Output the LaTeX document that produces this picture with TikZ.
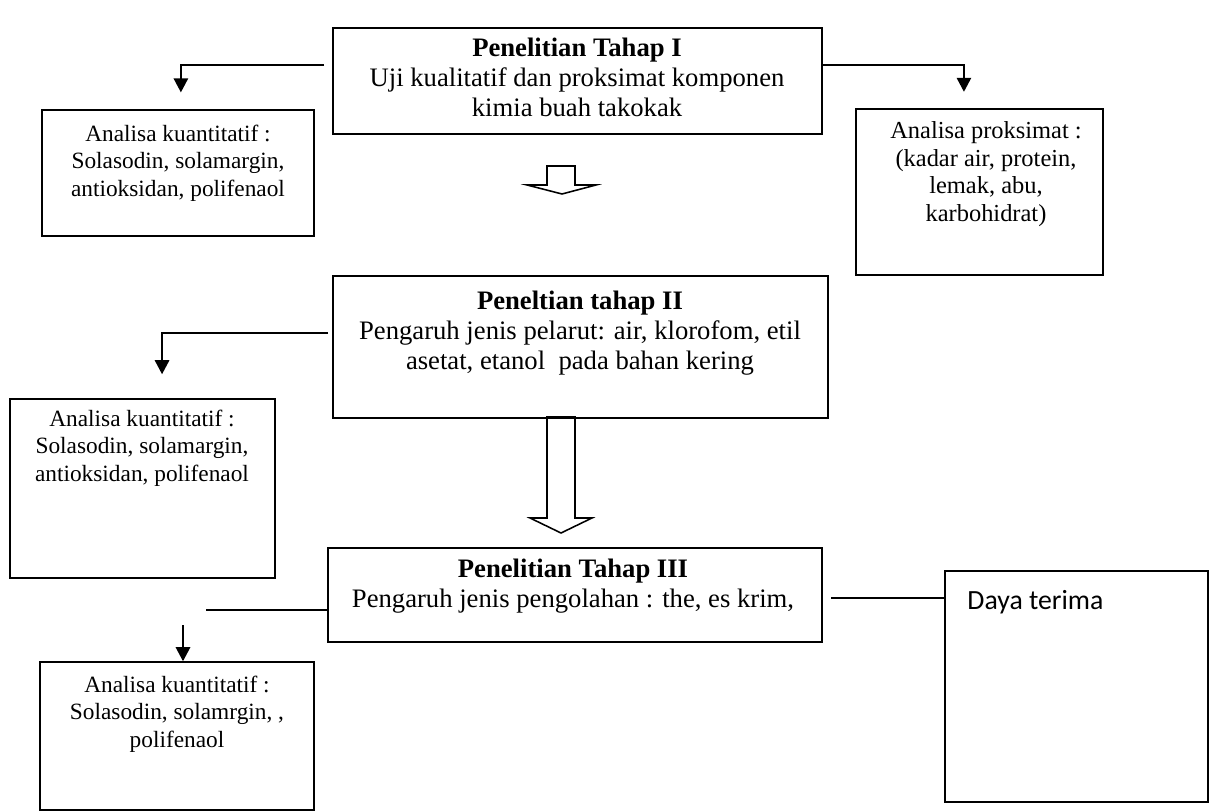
\documentclass[tikz,border=0pt]{standalone}
\usepackage{fontspec}
\setmainfont{Liberation Serif}
\newfontfamily\calibri{Carlito}
\usetikzlibrary{arrows.meta,fit,positioning}

\begin{document}
\begin{tikzpicture}[x=0.45pt,y=-0.45pt,
    box/.style={draw, line width=0.7pt, inner sep=0pt},
    boldbox/.style={draw, line width=1.1pt, inner sep=0pt},
    maintxt/.style={align=center, inner sep=0pt, font=\fontsize{12}{13.5}\selectfont},
    smalltxt/.style={align=center, inner sep=0pt, font=\fontsize{10.5}{12.4}\selectfont},
    arr/.style={line width=0.7pt, -{Triangle[length=6.3pt,width=6.5pt]}},
    link/.style={line width=0.7pt}]
    \useasboundingbox (0,0) rectangle (1213,812);
    % Stage boxes
    \node[box, fit={(333,28) (822,134)}] (tahap1) {};
    \node[box, fit={(333,276) (828,418)}] (tahap2) {};
    \node[boldbox, fit={(328,548) (822,642)}] (tahap3) {};
    % Result boxes
    \node[box, fit={(42,110) (314,236)}] (kuant1) {};
    \node[box, fit={(856,109) (1103,275)}] (proks) {};
    \node[box, fit={(10,399) (275,578)}] (kuant2) {};
    \node[box, fit={(40,662) (314,810)}] (kuant3) {};
    \node[box, fit={(945,571) (1208,802)}] (daya) {};
    % Texts
    \node[maintxt] (t1txt) at (577,77) {\textbf{Penelitian Tahap I}\\Uji kualitatif dan proksimat komponen\\kimia buah takokak};
    \node[maintxt] (t2txt) at (580,333) {\textbf{Peneltian tahap II}\\Pengaruh jenis pelarut: air, klorofom, etil\\asetat, etanol\ \ pada bahan kering};
    \node[maintxt] (t3txt) at (573,586) {\textbf{Penelitian Tahap III}\\Pengaruh jenis pengolahan : the, es krim,};
    \node[smalltxt] (k1txt) at (178,163) {Analisa kuantitatif :\\Solasodin, solamargin,\\antioksidan, polifenaol};
    \node[smalltxt, font=\fontsize{11}{12.4}\selectfont] (ptxt) at (986,174) {Analisa proksimat :\\(kadar air, protein,\\lemak, abu,\\karbohidrat)};
    \node[smalltxt] (k2txt) at (142,448) {Analisa kuantitatif :\\Solasodin, solamargin,\\antioksidan, polifenaol};
    \node[smalltxt] (k3txt) at (177,714) {Analisa kuantitatif :\\Solasodin, solamrgin, ,\\polifenaol};
    \node[anchor=west, inner sep=0pt, font=\calibri\fontsize{12.5}{15}\selectfont] (dtxt) at (967,602) {Daya terima};
    % Stage I branches
    \coordinate (s1l) at (324,65);
    \draw[arr, shorten >=7.6pt] (s1l) -| ([xshift=1.3pt]kuant1.north);
    \draw[arr, shorten >=7.4pt] (tahap1.east |- s1l) -| ([xshift=-7pt]proks.north);
    % Stage II branch
    \coordinate (s2l) at (328,333);
    \draw[arr, shorten >=10.8pt] (s2l) -| ([xshift=8.8pt]kuant2.north);
    % Stage III branches
    \coordinate (s3l) at (206,610);
    \draw[link] (s3l) -- (tahap3.west |- s3l);
    \coordinate (s3a) at (183,625);
    \draw[arr] (s3a) -- (s3a |- kuant3.north);
    \coordinate (s3r) at (831,598);
    \draw[link] (s3r) -- (daya.west |- s3r);
    % Hollow arrows between stages
    \draw[link] (547,166) -- (575,166) -- (575,185) -- (596,185) -- (562,194) -- (527,185) -- (547,185) -- cycle;
    \draw[link] (547,417) -- (575,417) -- (575,518) -- (592,518) -- (561,533) -- (530,518) -- (547,518) -- cycle;
\end{tikzpicture}
\end{document}
